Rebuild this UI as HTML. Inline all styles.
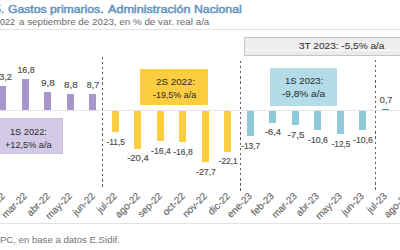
<!DOCTYPE html>
<html><head><meta charset="utf-8">
<style>
html,body{margin:0;padding:0;background:#fff;}
body{width:400px;height:250px;position:relative;overflow:hidden;font-family:"Liberation Sans",sans-serif;}
.t{position:absolute;white-space:nowrap;}
.bx{-webkit-text-stroke:0.05px #333;}
.ttl{-webkit-text-stroke:0.5px #6596c2;}
.bar{position:absolute;}
.mon{position:absolute;width:60px;height:10px;text-align:right;line-height:10px;color:#666;-webkit-text-stroke:0.15px #666;white-space:nowrap;transform-origin:100% 0%;transform:rotate(-45deg);}
.dot{position:absolute;width:1.2px;background:repeating-linear-gradient(to bottom,#5a5a5a 0,#5a5a5a 2.2px,transparent 2.2px,transparent 5.1px);}
.box{position:absolute;box-sizing:border-box;}
</style></head><body>
<div class="t ttl" style="left:-5.00px;top:3.83px;font-size:10.6px;line-height:10.6px;color:#6596c2;font-weight:normal;transform:scaleX(1.0);transform-origin:0 50%;">5.</div><div class="t ttl" style="left:8.42px;top:3.83px;font-size:10.6px;line-height:10.6px;color:#6596c2;font-weight:normal;transform:scaleX(1.1516);transform-origin:0 50%;">Gastos primarios.</div><div class="t ttl" style="left:107.60px;top:3.83px;font-size:10.6px;line-height:10.6px;color:#6596c2;font-weight:normal;transform:scaleX(1.1876);transform-origin:0 50%;">Administración</div><div class="t ttl" style="left:193.50px;top:3.83px;font-size:10.6px;line-height:10.6px;color:#6596c2;font-weight:normal;transform:scaleX(1.1565);transform-origin:0 50%;">Nacional</div><div class="t" style="left:-5.01px;top:17.75px;font-size:8.8px;line-height:8.8px;color:#6a6a6a;font-weight:normal;transform:scaleX(1.0281);transform-origin:0 50%;">2022</div><div class="t" style="left:19.00px;top:17.75px;font-size:8.8px;line-height:8.8px;color:#6a6a6a;font-weight:normal;transform:scaleX(1.1139);transform-origin:0 50%;">a septiembre de</div><div class="t" style="left:92.45px;top:17.75px;font-size:8.8px;line-height:8.8px;color:#6a6a6a;font-weight:normal;transform:scaleX(1.1157);transform-origin:0 50%;">2023, en % de var. real a/a</div><div class="t" style="left:-0.06px;top:234.87px;font-size:9.6px;line-height:9.6px;color:#747474;font-weight:normal;transform:scaleX(1.0);transform-origin:0 50%;">PC, en base a datos E.Sidif.</div>
<div style="position:absolute;left:0;top:29px;width:400px;height:1px;background:#e2e2e2"></div>
<div style="position:absolute;left:0;top:109.9px;width:400px;height:1px;background:#e6e6e6"></div>
<div style="position:absolute;left:0;top:223px;width:400px;height:1px;background:#e2e2e2"></div>
<div class="dot" style="left:102px;top:56.9px;height:133px"></div>
<div class="dot" style="left:239.5px;top:60.5px;height:130px"></div>
<div class="dot" style="left:375.2px;top:59.5px;height:131px"></div>
<div class="bar" style="left:-0.65px;top:85.65px;width:7.0px;height:24.35px;background:#a796cc"></div>
<div class="t lab" style="left:-16.75px;top:72.87px;width:40px;text-align:center;font-size:8.3px;line-height:8.3px;color:#4d4d4d;-webkit-text-stroke:0.15px #4d4d4d;transform:scaleX(1.097);">13,2</div>
<div class="bar" style="left:21.84px;top:79.00px;width:7.0px;height:31.00px;background:#a796cc"></div>
<div class="t lab" style="left:5.74px;top:66.23px;width:40px;text-align:center;font-size:8.3px;line-height:8.3px;color:#4d4d4d;-webkit-text-stroke:0.15px #4d4d4d;transform:scaleX(1.067);">16,8</div>
<div class="bar" style="left:44.33px;top:91.92px;width:7.0px;height:18.08px;background:#a796cc"></div>
<div class="t lab" style="left:28.23px;top:79.14px;width:40px;text-align:center;font-size:8.3px;line-height:8.3px;color:#4d4d4d;-webkit-text-stroke:0.15px #4d4d4d;transform:scaleX(1.191);">9,8</div>
<div class="bar" style="left:66.82px;top:93.76px;width:7.0px;height:16.24px;background:#a796cc"></div>
<div class="t lab" style="left:50.72px;top:80.99px;width:40px;text-align:center;font-size:8.3px;line-height:8.3px;color:#4d4d4d;-webkit-text-stroke:0.15px #4d4d4d;transform:scaleX(1.191);">8,8</div>
<div class="bar" style="left:89.31px;top:93.95px;width:7.0px;height:16.05px;background:#a796cc"></div>
<div class="t lab" style="left:73.21px;top:81.17px;width:40px;text-align:center;font-size:8.3px;line-height:8.3px;color:#4d4d4d;-webkit-text-stroke:0.15px #4d4d4d;transform:scaleX(1.067);">8,7</div>
<div class="bar" style="left:111.80px;top:110.90px;width:7.0px;height:21.22px;background:#fccd40"></div>
<div class="t lab" style="left:95.70px;top:137.89px;width:40px;text-align:center;font-size:8.3px;line-height:8.3px;color:#4d4d4d;-webkit-text-stroke:0.15px #4d4d4d;transform:scaleX(1.000);">-11,5</div>
<div class="bar" style="left:134.29px;top:110.90px;width:7.0px;height:37.64px;background:#fccd40"></div>
<div class="t lab" style="left:118.19px;top:154.31px;width:40px;text-align:center;font-size:8.3px;line-height:8.3px;color:#4d4d4d;-webkit-text-stroke:0.15px #4d4d4d;transform:scaleX(1.142);">-20,4</div>
<div class="bar" style="left:156.78px;top:110.90px;width:7.0px;height:30.26px;background:#fccd40"></div>
<div class="t lab" style="left:140.68px;top:146.93px;width:40px;text-align:center;font-size:8.3px;line-height:8.3px;color:#4d4d4d;-webkit-text-stroke:0.15px #4d4d4d;transform:scaleX(1.053);">-16,4</div>
<div class="bar" style="left:179.27px;top:110.90px;width:7.0px;height:31.00px;background:#fccd40"></div>
<div class="t lab" style="left:163.17px;top:147.67px;width:40px;text-align:center;font-size:8.3px;line-height:8.3px;color:#4d4d4d;-webkit-text-stroke:0.15px #4d4d4d;transform:scaleX(1.034);">-16,8</div>
<div class="bar" style="left:201.76px;top:110.90px;width:7.0px;height:51.11px;background:#fccd40"></div>
<div class="t lab" style="left:185.66px;top:167.78px;width:40px;text-align:center;font-size:8.3px;line-height:8.3px;color:#4d4d4d;-webkit-text-stroke:0.15px #4d4d4d;transform:scaleX(1.053);">-27,7</div>
<div class="bar" style="left:224.25px;top:110.90px;width:7.0px;height:40.77px;background:#fccd40"></div>
<div class="t lab" style="left:208.15px;top:157.45px;width:40px;text-align:center;font-size:8.3px;line-height:8.3px;color:#4d4d4d;-webkit-text-stroke:0.15px #4d4d4d;transform:scaleX(1.000);">-22,1</div>
<div class="bar" style="left:246.74px;top:110.90px;width:7.0px;height:25.28px;background:#8fcadb"></div>
<div class="t lab" style="left:230.64px;top:141.95px;width:40px;text-align:center;font-size:8.3px;line-height:8.3px;color:#4d4d4d;-webkit-text-stroke:0.15px #4d4d4d;transform:scaleX(1.000);">-13,7</div>
<div class="bar" style="left:269.23px;top:110.90px;width:7.0px;height:11.81px;background:#8fcadb"></div>
<div class="t lab" style="left:253.13px;top:128.48px;width:40px;text-align:center;font-size:8.3px;line-height:8.3px;color:#4d4d4d;-webkit-text-stroke:0.15px #4d4d4d;transform:scaleX(1.129);">-6,4</div>
<div class="bar" style="left:291.72px;top:110.90px;width:7.0px;height:13.84px;background:#8fcadb"></div>
<div class="t lab" style="left:275.62px;top:130.51px;width:40px;text-align:center;font-size:8.3px;line-height:8.3px;color:#4d4d4d;-webkit-text-stroke:0.15px #4d4d4d;transform:scaleX(1.179);">-7,5</div>
<div class="bar" style="left:314.21px;top:110.90px;width:7.0px;height:19.56px;background:#8fcadb"></div>
<div class="t lab" style="left:298.11px;top:136.23px;width:40px;text-align:center;font-size:8.3px;line-height:8.3px;color:#4d4d4d;-webkit-text-stroke:0.15px #4d4d4d;transform:scaleX(1.053);">-10,6</div>
<div class="bar" style="left:336.70px;top:110.90px;width:7.0px;height:23.06px;background:#8fcadb"></div>
<div class="t lab" style="left:320.60px;top:139.74px;width:40px;text-align:center;font-size:8.3px;line-height:8.3px;color:#4d4d4d;-webkit-text-stroke:0.15px #4d4d4d;transform:scaleX(0.989);">-12,5</div>
<div class="bar" style="left:359.19px;top:110.90px;width:7.0px;height:19.56px;background:#8fcadb"></div>
<div class="t lab" style="left:343.09px;top:136.23px;width:40px;text-align:center;font-size:8.3px;line-height:8.3px;color:#4d4d4d;-webkit-text-stroke:0.15px #4d4d4d;transform:scaleX(1.053);">-10,6</div>
<div class="bar" style="left:381.68px;top:108.80px;width:7.0px;height:1.70px;background:#4a9f80"></div>
<div class="t lab" style="left:365.58px;top:95.87px;width:40px;text-align:center;font-size:8.3px;line-height:8.3px;color:#4d4d4d;-webkit-text-stroke:0.15px #4d4d4d;transform:scaleX(1.100);">0,7</div>
<div class="mon" style="left:-82.89px;top:190.70px;font-size:9.8px;">ene-22</div>
<div class="mon" style="left:-60.40px;top:190.70px;font-size:9.8px;">feb-22</div>
<div class="mon" style="left:-37.91px;top:190.70px;font-size:9.8px;">mar-22</div>
<div class="mon" style="left:-15.42px;top:190.70px;font-size:9.8px;">abr-22</div>
<div class="mon" style="left:7.07px;top:190.70px;font-size:9.8px;">may-22</div>
<div class="mon" style="left:29.56px;top:190.70px;font-size:9.8px;">jun-22</div>
<div class="mon" style="left:52.05px;top:190.70px;font-size:9.8px;">jul-22</div>
<div class="mon" style="left:74.54px;top:190.70px;font-size:9.8px;">ago-22</div>
<div class="mon" style="left:97.03px;top:190.70px;font-size:9.8px;">sep-22</div>
<div class="mon" style="left:119.52px;top:190.70px;font-size:9.8px;">oct-22</div>
<div class="mon" style="left:142.01px;top:190.70px;font-size:9.8px;">nov-22</div>
<div class="mon" style="left:164.50px;top:190.70px;font-size:9.8px;">dic-22</div>
<div class="mon" style="left:186.99px;top:190.70px;font-size:9.8px;">ene-23</div>
<div class="mon" style="left:209.48px;top:190.70px;font-size:9.8px;">feb-23</div>
<div class="mon" style="left:231.97px;top:190.70px;font-size:9.8px;">mar-23</div>
<div class="mon" style="left:254.46px;top:190.70px;font-size:9.8px;">abr-23</div>
<div class="mon" style="left:276.95px;top:190.70px;font-size:9.8px;">may-23</div>
<div class="mon" style="left:299.44px;top:190.70px;font-size:9.8px;">jun-23</div>
<div class="mon" style="left:321.93px;top:190.70px;font-size:9.8px;">jul-23</div>
<div class="mon" style="left:344.42px;top:190.70px;font-size:9.8px;">ago-23</div>
<div class="box" style="left:244.3px;top:36.7px;width:170px;height:19.8px;background:linear-gradient(to bottom,#efefef 0,#efefef 12.3px,#f8f8f8 12.3px,#f8f8f8 13.5px,#ebebeb 13.5px);border:1px solid #c4c4c4;"></div><div class="box" style="left:-6px;top:117.8px;width:68.7px;height:36.6px;background:#d2cae6;border:1px solid #c8bfe0;"></div><div class="box" style="left:140.2px;top:68.7px;width:68.1px;height:36.5px;background:#fccd40;"></div><div class="box" style="left:269.6px;top:68.4px;width:67.4px;height:37.2px;background:#b3dbe8;"></div>
<div class="t bx" style="left:299.04px;top:42.11px;font-size:9.2px;line-height:9.2px;color:#2e2e2e;font-weight:normal;transform:scaleX(1.0961);transform-origin:0 50%;">3T 2023: -5,5% a/a</div><div class="t bx" style="left:10.10px;top:127.71px;font-size:9.2px;line-height:9.2px;color:#2e2e2e;font-weight:normal;transform:scaleX(1.0003);transform-origin:0 50%;">1S 2022:</div><div class="t bx" style="left:5.07px;top:140.91px;font-size:9.2px;line-height:9.2px;color:#2e2e2e;font-weight:normal;transform:scaleX(0.9953);transform-origin:0 50%;">+12,5% a/a</div><div class="t bx" style="left:156.10px;top:77.61px;font-size:9.2px;line-height:9.2px;color:#2e2e2e;font-weight:normal;transform:scaleX(1.0656);transform-origin:0 50%;">2S 2022:</div><div class="t bx" style="left:153.06px;top:90.51px;font-size:9.2px;line-height:9.2px;color:#2e2e2e;font-weight:normal;transform:scaleX(0.9695);transform-origin:0 50%;">-19,5% a/a</div><div class="t bx" style="left:284.92px;top:76.91px;font-size:9.2px;line-height:9.2px;color:#2e2e2e;font-weight:normal;transform:scaleX(1.0389);transform-origin:0 50%;">1S 2023:</div><div class="t bx" style="left:281.99px;top:89.81px;font-size:9.2px;line-height:9.2px;color:#2e2e2e;font-weight:normal;transform:scaleX(1.0943);transform-origin:0 50%;">-9,8% a/a</div>
</body></html>
